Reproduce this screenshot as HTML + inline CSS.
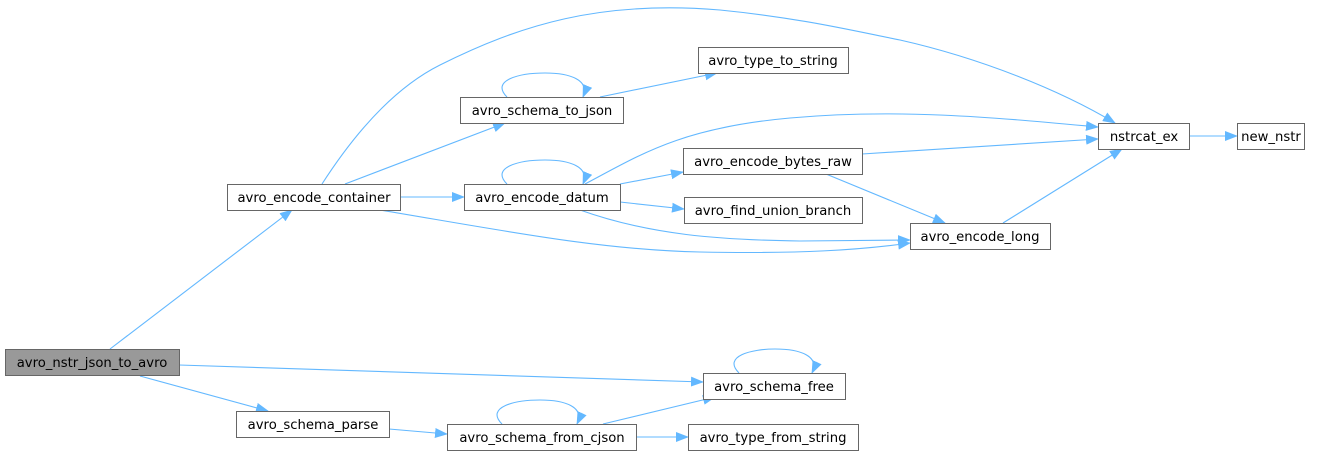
<!DOCTYPE html>
<html><head><meta charset="utf-8"><style>
html,body{margin:0;padding:0;background:#fff;}
svg{display:block;}
text{font-family:"DejaVu Sans","Liberation Sans",sans-serif;font-size:13.2px;fill:#000;}
</style></head><body>
<svg width="1324" height="455" viewBox="0 0 1324 455" xmlns="http://www.w3.org/2000/svg">
<defs>
<marker id="a" markerWidth="13" markerHeight="10" refX="12" refY="5" orient="auto" markerUnits="userSpaceOnUse">
<path d="M0,0 L13,5 L0,10 z" fill="#63b8ff"/>
</marker>
</defs>
<g fill="none" stroke="#63b8ff" stroke-width="1.1" marker-end="url(#a)">
<path d="M110,349 L292,210"/>
<path d="M179,365 L703,382"/>
<path d="M140,376 L268,411"/>
<path d="M322,184 C360,125 400,85 440,65 C520,25 600,0 720,10 C800,18 850,30 900,40 C980,58 1060,90 1115,123"/>
<path d="M345,184 L505,123"/>
<path d="M400,197 L464,197"/>
<path d="M380,210 C500,230 600,250 700,252 C800,254 860,250 910,243"/>
<path d="M507,97 C490,80 520,73 545,73 C570,73 590,80 583,97"/>
<path d="M600,97 L717,73"/>
<path d="M507,184 C490,167 520,160 545,160 C570,160 590,167 583,184"/>
<path d="M585,184 C640,155 680,128 790,118 C900,108 1000,118 1098,127"/>
<path d="M620,184 L683,172"/>
<path d="M620,202 L684,209"/>
<path d="M580,210 C650,235 720,240 800,241 L910,240"/>
<path d="M862,154 L1098,139"/>
<path d="M826,174 L945,223"/>
<path d="M1003,223 L1122,149"/>
<path d="M1189,136 L1237,136"/>
<path d="M739,373 C722,356 752,349 775,349 C800,349 820,356 812,373"/>
<path d="M389,429 L447,434"/>
<path d="M502,424 C485,407 515,400 540,400 C565,400 585,407 577,424"/>
<path d="M603,424 L715,397"/>
<path d="M636,437 L688,437"/>
</g>
<g stroke="#666" stroke-width="1" fill="#fff">
<rect x="5.5" y="349.5" width="174" height="26" fill="#999"/>
<rect x="227.5" y="184.5" width="173" height="26"/>
<rect x="236.5" y="411.5" width="153" height="26"/>
<rect x="460.5" y="97.5" width="163" height="26"/>
<rect x="464.5" y="184.5" width="156" height="26"/>
<rect x="447.5" y="424.5" width="189" height="26"/>
<rect x="698.5" y="47.5" width="150" height="26"/>
<rect x="683.5" y="148.5" width="179" height="26"/>
<rect x="684.5" y="197.5" width="178" height="26"/>
<rect x="910.5" y="223.5" width="140" height="26"/>
<rect x="1098.5" y="123.5" width="91" height="26"/>
<rect x="1237.5" y="123.5" width="67" height="26"/>
<rect x="703.5" y="373.5" width="142" height="26"/>
<rect x="688.5" y="424.5" width="170" height="26"/>
</g>
<g text-anchor="middle">
<text x="92" y="367">avro_nstr_json_to_avro</text>
<text x="314" y="202">avro_encode_container</text>
<text x="313" y="429">avro_schema_parse</text>
<text x="542" y="115">avro_schema_to_json</text>
<text x="542" y="202">avro_encode_datum</text>
<text x="542" y="442">avro_schema_from_cjson</text>
<text x="773" y="65">avro_type_to_string</text>
<text x="773" y="166">avro_encode_bytes_raw</text>
<text x="773" y="215">avro_find_union_branch</text>
<text x="980" y="241">avro_encode_long</text>
<text x="1144" y="141">nstrcat_ex</text>
<text x="1271" y="141">new_nstr</text>
<text x="774" y="391">avro_schema_free</text>
<text x="773" y="442">avro_type_from_string</text>
</g>
</svg>
</body></html>
